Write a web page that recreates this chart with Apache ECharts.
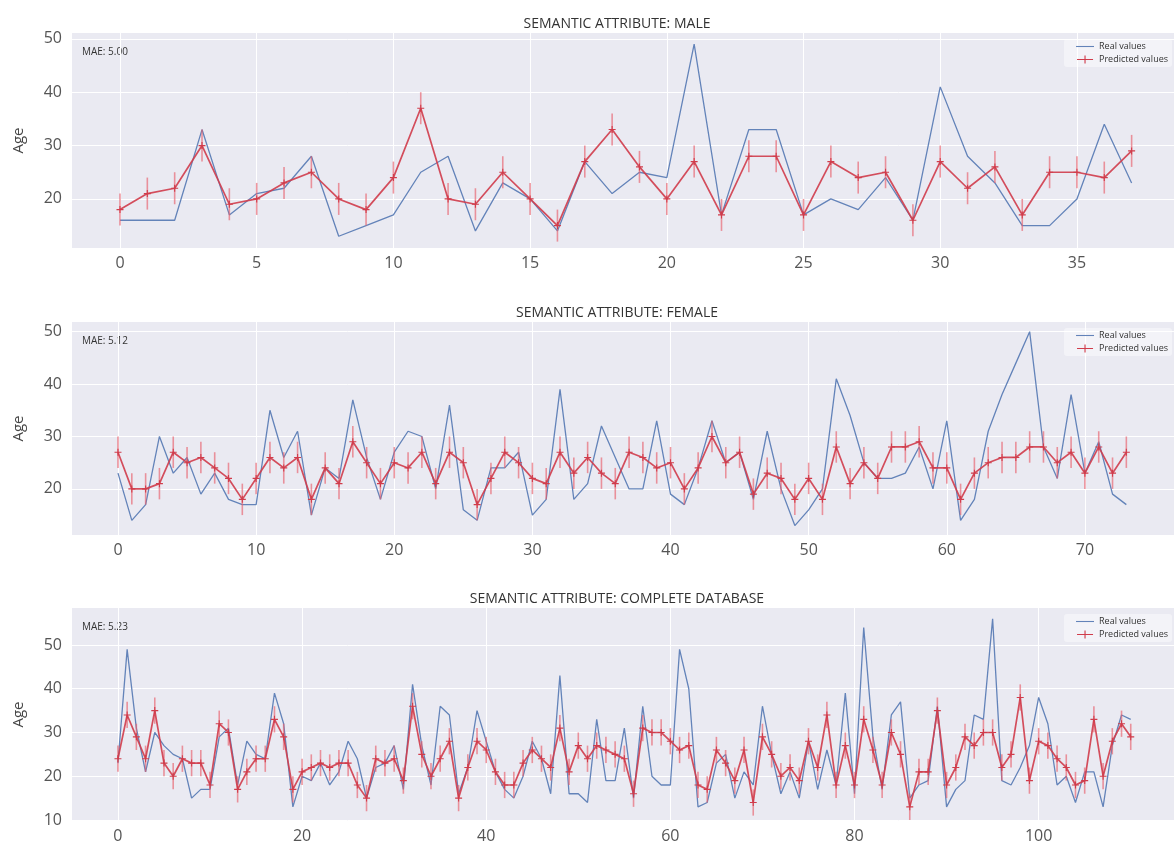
<!DOCTYPE html>
<html>
<head>
<meta charset="utf-8">
<script src="https://cdn.jsdelivr.net/npm/echarts@6/dist/echarts.min.js"></script>
<style>
  html, body { margin: 0; padding: 0; background: #ffffff; }
  #chart { width: 1174px; height: 844px; }
</style>
</head>
<body>
<div id="chart"></div>
<script>
// ---- Data: real vs predicted age per sample ----
const maleReal = [16, 16, 16, 33, 17, 21, 22, 28, 13, 15, 17, 25, 28, 14, 23, 20, 14, 27, 21, 25,
  24, 49, 17, 33, 33, 17, 20, 18, 24, 16, 41, 28, 23, 15, 15, 20, 34, 23];
const malePred = [18, 21, 22, 30, 19, 20, 23, 25, 20, 18, 24, 37, 20, 19, 25, 20, 15, 27, 33, 26,
  20, 27, 17, 28, 28, 17, 27, 24, 25, 16, 27, 22, 26, 17, 25, 25, 24, 29];

const femaleReal = [23, 14, 17, 30, 23, 26, 19, 23, 18, 17, 17, 35, 26, 31, 15, 24, 22, 37, 26, 18,
  27, 31, 30, 20, 36, 16, 14, 24, 24, 27, 15, 18, 39, 18, 21, 32, 26, 20, 20, 33,
  19, 17, 24, 33, 25, 27, 18, 31, 20, 13, 16, 20, 41, 34, 25, 22, 22, 23, 28, 20,
  33, 14, 18, 31, 38, 44, 50, 28, 22, 38, 23, 29, 19, 17];
const femalePred = [27, 20, 20, 21, 27, 25, 26, 24, 22, 18, 22, 26, 24, 26, 18, 24, 21, 29, 25, 21,
  25, 24, 27, 21, 27, 25, 17, 22, 27, 25, 22, 21, 27, 23, 26, 23, 21, 27, 26, 24,
  25, 20, 24, 30, 25, 27, 19, 23, 22, 18, 22, 18, 28, 21, 25, 22, 28, 28, 29, 24,
  24, 18, 23, 25, 26, 26, 28, 28, 25, 27, 23, 28, 23, 27];

const allReal = [23, 49, 31, 21, 30, 27, 25, 24, 15, 17, 17, 29, 31, 18, 28, 25, 24, 39, 32, 13,
  20, 19, 23, 18, 21, 28, 24, 15, 22, 23, 27, 17, 41, 27, 18, 36, 34, 16, 22, 35,
  28, 21, 17, 15, 20, 28, 24, 16, 43, 16, 16, 14, 33, 19, 19, 31, 15, 36, 20, 18,
  18, 49, 40, 13, 14, 23, 25, 15, 21, 18, 36, 25, 16, 21, 15, 28, 17, 26, 18, 39,
  16, 54, 29, 17, 34, 37, 15, 18, 19, 36, 13, 17, 19, 34, 33, 56, 19, 18, 22, 27,
  38, 32, 18, 20, 14, 21, 21, 13, 27, 34, 33];
const allPred = [24, 34, 29, 24, 35, 23, 20, 24, 23, 23, 18, 32, 30, 17, 21, 24, 24, 33, 29, 17,
  21, 22, 23, 22, 23, 23, 18, 15, 24, 23, 24, 19, 36, 25, 20, 24, 28, 15, 22, 28,
  26, 21, 18, 18, 23, 26, 24, 22, 31, 21, 27, 24, 27, 26, 25, 24, 16, 31, 30, 30,
  28, 26, 27, 18, 17, 26, 23, 19, 26, 14, 29, 25, 20, 22, 19, 28, 22, 34, 18, 27,
  18, 33, 26, 18, 30, 25, 13, 21, 21, 35, 18, 22, 29, 27, 30, 30, 22, 25, 38, 19,
  28, 27, 24, 22, 18, 19, 33, 20, 28, 32, 29];

// half-length of the error bar drawn on each prediction
const maleErr = 3;
const femaleErr = 3;
const allErr = 3;

// tick labels
const maleXTicks = [0, 5, 10, 15, 20, 25, 30, 35];
const femaleXTicks = [0, 10, 20, 30, 40, 50, 60, 70];
const allXTicks = [0, 20, 40, 60, 80, 100];
const maleYTicks = [20, 30, 40, 50];
const femaleYTicks = [20, 30, 40, 50];
const allYTicks = [10, 20, 30, 40, 50];

const titles = ['SEMANTIC ATTRIBUTE: MALE', 'SEMANTIC ATTRIBUTE: FEMALE', 'SEMANTIC ATTRIBUTE: COMPLETE DATABASE'];
const maeLabels = ['MAE: 5.00', 'MAE: 5.12', 'MAE: 5.23'];
const legendNames = ['Real values', 'Predicted values'];

const panels = [
  { real: maleReal, pred: malePred, err: maleErr, xTicks: maleXTicks, yTicks: maleYTicks },
  { real: femaleReal, pred: femalePred, err: femaleErr, xTicks: femaleXTicks, yTicks: femaleYTicks },
  { real: allReal, pred: allPred, err: allErr, xTicks: allXTicks, yTicks: allYTicks }
];

// ---- Layout of the three stacked plots ----
const GRID_LEFT = 72;
const layout = [
  { top: 33,  height: 215, xMin: -1.755, xMax: 38.55, yMin: 10.8, yMax: 51.1 },
  { top: 322, height: 213, xMin: -3.33,  xMax: 76.45, yMin: 11.2, yMax: 51.85 },
  { top: 608, height: 213, xMin: -4.99,  xMax: 114.7, yMin: 9.77, yMax: 58.45 }
];

const FONT = '"Open Sans", "DejaVu Sans", sans-serif';
const BLUE = '#6383b9';
const RED = '#d03c4b';
const ERR = 'rgba(232, 96, 108, 0.65)';
const PLUS = 'path://M4.2,0h1.6v10h-1.6z M0,4.2h10v1.6h-10z';
const ICON_LINE = 'path://M0,4.4h20v1.2h-20z';
const ICON_LINE_PLUS = 'path://M0,4.3h20v1.4h-20z M9.3,0h1.4v10h-1.4z';

const grids = [], xAxes = [], yAxes = [], series = [], legends = [], graphics = [];

panels.forEach(function (p, k) {
  const L = layout[k];
  grids.push({
    left: GRID_LEFT, right: 0, top: L.top, height: L.height,
    show: true, backgroundColor: '#eaeaf2', borderWidth: 0
  });
  xAxes.push({
    type: 'value', gridIndex: k, min: L.xMin, max: L.xMax,
    axisLine: { show: false },
    axisTick: { show: false, customValues: p.xTicks },
    axisLabel: { customValues: p.xTicks, color: '#555', fontSize: 16, fontFamily: FONT, margin: 7 },
    splitLine: { show: true, lineStyle: { color: '#ffffff', width: 1 } }
  });
  yAxes.push({
    type: 'value', gridIndex: k, min: L.yMin, max: L.yMax,
    name: 'Age', nameLocation: 'middle', nameGap: 46, nameRotate: 90,
    nameTextStyle: { color: '#444', fontSize: 15, fontFamily: FONT },
    axisLine: { show: false },
    axisTick: { show: false, customValues: p.yTicks },
    axisLabel: { customValues: p.yTicks, color: '#555', fontSize: 16, fontFamily: FONT, margin: 10 },
    splitLine: { show: true, lineStyle: { color: '#ffffff', width: 1 } }
  });

  series.push({
    name: legendNames[0], type: 'line', xAxisIndex: k, yAxisIndex: k,
    data: p.real.map(function (v, i) { return [i, v]; }),
    symbol: 'none', z: 2,
    lineStyle: { color: BLUE, width: 1.3 },
    itemStyle: { color: BLUE }
  });
  series.push({
    name: 'error', type: 'custom', xAxisIndex: k, yAxisIndex: k, z: 3,
    data: p.pred.map(function (v, i) { return [i, v, p.err]; }),
    encode: { x: 0, y: 1 },
    renderItem: function (params, api) {
      const x = api.value(0), y = api.value(1), e = api.value(2);
      const a = api.coord([x, y - e]);
      const b = api.coord([x, y + e]);
      return {
        type: 'line',
        shape: { x1: a[0], y1: a[1], x2: b[0], y2: b[1] },
        style: { stroke: ERR, lineWidth: 1.6 }
      };
    }
  });
  series.push({
    name: legendNames[1], type: 'line', xAxisIndex: k, yAxisIndex: k,
    data: p.pred.map(function (v, i) { return [i, v]; }),
    symbol: PLUS, symbolSize: 7, showSymbol: true, z: 4,
    lineStyle: { color: RED, width: 1.7, opacity: 0.9 },
    itemStyle: { color: RED }
  });

  legends.push({
    data: [
      { name: legendNames[0], icon: ICON_LINE },
      { name: legendNames[1], icon: ICON_LINE_PLUS }
    ],
    orient: 'vertical', right: 2, top: L.top + 6,
    itemWidth: 18, itemHeight: 8, itemGap: 4,
    padding: [3, 4, 3, 12], borderRadius: 3,
    backgroundColor: 'rgba(255,255,255,0.45)',
    textStyle: { fontSize: 9, color: '#333', fontFamily: FONT },
    selectedMode: false
  });

  graphics.push({
    type: 'text', x: 617, y: L.top - 9,
    style: { text: titles[k], fill: '#333', font: '14px ' + FONT, textAlign: 'center', textVerticalAlign: 'middle' }
  });
  graphics.push({
    type: 'text', x: GRID_LEFT + 10, y: L.top + 19,
    style: { text: maeLabels[k], fill: '#333', font: '10px ' + FONT, textAlign: 'left', textVerticalAlign: 'middle' }
  });
});

const chart = echarts.init(document.getElementById('chart'), null, { renderer: 'canvas' });
chart.setOption({
  animation: false,
  backgroundColor: '#ffffff',
  grid: grids,
  xAxis: xAxes,
  yAxis: yAxes,
  legend: legends,
  series: series,
  graphic: graphics
});
</script>
</body>
</html>
